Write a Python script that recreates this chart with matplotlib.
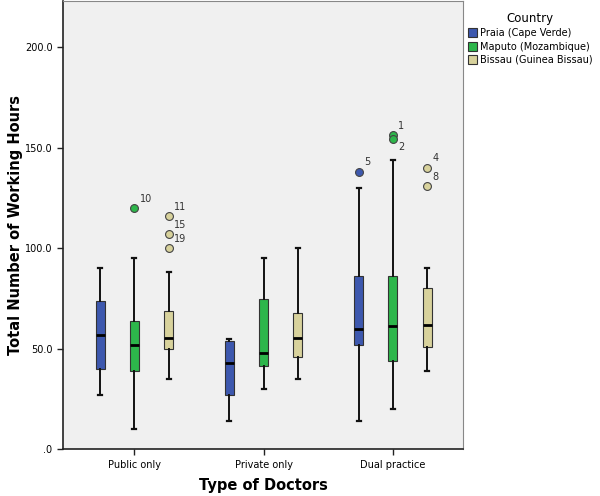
import matplotlib
matplotlib.use("Agg")
import matplotlib.pyplot as plt
from matplotlib.patches import Patch

# categories / groups
doctor_types = ["Public only", "Private only", "Dual practice"]
countries = ["Praia (Cape Verde)", "Maputo (Mozambique)", "Bissau (Guinea Bissau)"]
colors = ["#3d58ae", "#2db64b", "#d8d29c"]

# box stats per country, one entry per doctor type: (whislo, q1, med, q3, whishi)
praia = [(27, 40, 57, 73.5, 90), (14, 27, 43, 54, 55), (14, 52, 60, 86, 130)]
maputo = [(10, 39, 52, 64, 95), (30, 41.5, 48, 74.5, 95), (20, 44, 61.5, 86, 144)]
bissau = [(35, 50, 55.5, 69, 88), (35, 46, 55.5, 68, 100), (39, 51, 62, 80, 90)]

# outliers: (doctor type index, value, case label)
praia_out = [(2, 138, "5")]
maputo_out = [(0, 120, "10"), (2, 156, "1"), (2, 154, "2")]
bissau_out = [(0, 116, "11"), (0, 107, "15"), (0, 100, "19"), (2, 140, "4"), (2, 131, "8")]

# label offsets in points (style only)
label_offset = {"2": (4, -9)}

fig = plt.figure(figsize=(6, 4.96), dpi=100)
ax = fig.add_axes([0.105, 0.094, 0.667, 0.904])
ax.set_facecolor("#f0f0f0")

offsets = [-0.265, 0.0, 0.265]
box_w = 0.07
all_stats = [praia, maputo, bissau]
all_out = [praia_out, maputo_out, bissau_out]

for ci in range(3):
    stats = []
    for di, (lo, q1, med, q3, hi) in enumerate(all_stats[ci]):
        stats.append(dict(whislo=lo, q1=q1, med=med, q3=q3, whishi=hi, fliers=[]))
    pos = [i + offsets[ci] for i in range(3)]
    ax.bxp(stats, positions=pos, widths=box_w, patch_artist=True,
           showfliers=False,
           boxprops=dict(facecolor=colors[ci], edgecolor="#333333", linewidth=0.8),
           medianprops=dict(color="black", linewidth=2),
           whiskerprops=dict(color="#111111", linewidth=1.4),
           capprops=dict(color="#111111", linewidth=1.6),
           capwidths=0.03)
    for di, val, lab in all_out[ci]:
        x = di + offsets[ci]
        ax.scatter([x], [val], s=32, color=colors[ci], edgecolor="#444444",
                   linewidth=0.8, zorder=5)
        dx, dy = label_offset.get(lab, (4, 3))
        ax.annotate(lab, (x, val), xytext=(dx, dy), textcoords="offset points",
                    fontsize=7, color="#333333", ha="left", va="bottom")

ax.set_xlim(-0.553, 2.545)
ax.set_ylim(0, 222.8)
ax.set_xticks(range(3))
ax.set_xticklabels(doctor_types, fontsize=7)
ax.set_yticks([0, 50, 100, 150, 200])
ax.set_yticklabels([".0", "50.0", "100.0", "150.0", "200.0"], fontsize=7)
ax.tick_params(direction="out", length=4, width=1, color="#222222")
for s in ["left", "bottom"]:
    ax.spines[s].set_color("#222222")
    ax.spines[s].set_linewidth(1.2)
for s in ["top", "right"]:
    ax.spines[s].set_color("#888888")
    ax.spines[s].set_linewidth(0.8)

ax.set_xlabel("Type of Doctors", fontsize=10.5, fontweight="bold", labelpad=6)
ax.set_ylabel("Total Number of Working Hours", fontsize=10.5, fontweight="bold")
ax.yaxis.set_label_coords(-0.1, 0.5)

handles = [Patch(facecolor=c, edgecolor="#333333", linewidth=0.8) for c in colors]
leg = fig.legend(handles, countries, loc="upper left", bbox_to_anchor=(0.768, 0.99),
                 frameon=False, fontsize=7, title="Country", title_fontsize=8.5,
                 handlelength=1.0, handleheight=1.0, handletextpad=0.3,
                 labelspacing=0.35, borderpad=0.2)

fig.savefig("out.png", dpi=100)
